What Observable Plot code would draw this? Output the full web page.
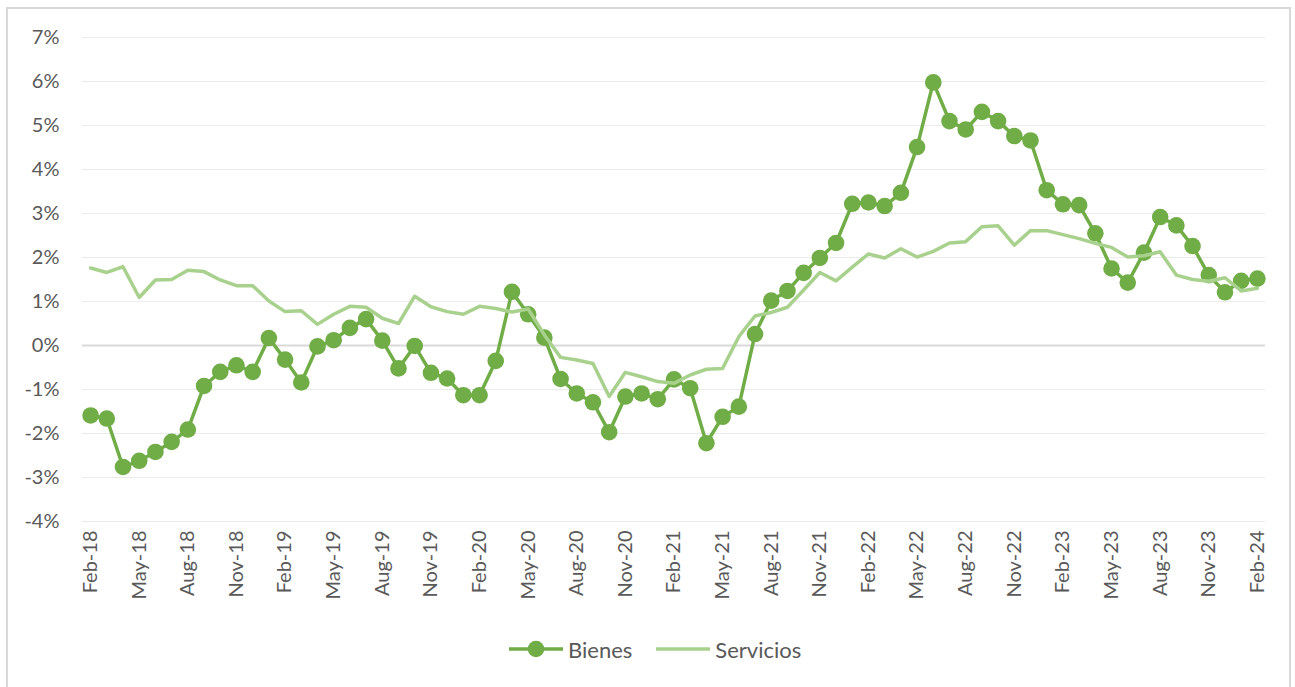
<!DOCTYPE html>
<html>
<head>
<meta charset="utf-8">
<script src="https://cdn.jsdelivr.net/npm/d3@7"></script>
<script src="https://cdn.jsdelivr.net/npm/@observablehq/plot@0.6"></script>
<style>
  html, body { margin: 0; padding: 0; background: #ffffff; }
  body { width: 1295px; height: 687px; position: relative; overflow: hidden; font-family: Lato, "Liberation Sans", sans-serif; }
  #frame { position: absolute; left: 6px; top: 7px; width: 1285px; height: 700px; border: 2px solid #d9d9d9; box-sizing: border-box; }
  #chart { position: absolute; left: 0; top: 0; }
  #legend { position: absolute; left: 509px; top: 636px; height: 26px; display: flex; align-items: center; font-size: 22px; color: #595959; }
  #legend .item { display: flex; align-items: center; }
  #legend svg { display: block; }
</style>
</head>
<body>
<div id="frame"></div>
<div id="chart"></div>
<div id="legend"></div>
<script>
const months = [
  "Feb-18","Mar-18","Apr-18","May-18","Jun-18","Jul-18","Aug-18","Sep-18","Oct-18","Nov-18","Dec-18",
  "Jan-19","Feb-19","Mar-19","Apr-19","May-19","Jun-19","Jul-19","Aug-19","Sep-19","Oct-19","Nov-19","Dec-19",
  "Jan-20","Feb-20","Mar-20","Apr-20","May-20","Jun-20","Jul-20","Aug-20","Sep-20","Oct-20","Nov-20","Dec-20",
  "Jan-21","Feb-21","Mar-21","Apr-21","May-21","Jun-21","Jul-21","Aug-21","Sep-21","Oct-21","Nov-21","Dec-21",
  "Jan-22","Feb-22","Mar-22","Apr-22","May-22","Jun-22","Jul-22","Aug-22","Sep-22","Oct-22","Nov-22","Dec-22",
  "Jan-23","Feb-23","Mar-23","Apr-23","May-23","Jun-23","Jul-23","Aug-23","Sep-23","Oct-23","Nov-23","Dec-23",
  "Jan-24","Feb-24"
];

const bienes = [
  -1.59, -1.66, -2.76, -2.62, -2.42, -2.19, -1.91, -0.92, -0.60, -0.45, -0.60,
   0.17, -0.32, -0.84, -0.02,  0.12,  0.40,  0.60,  0.11, -0.52, -0.01, -0.62, -0.75,
  -1.13, -1.13, -0.35,  1.22,  0.71,  0.18, -0.76, -1.09, -1.29, -1.97, -1.16, -1.09,
  -1.22, -0.77, -0.97, -2.22, -1.62, -1.39,  0.26,  1.02,  1.24,  1.65,  1.99,  2.33,
   3.22,  3.25,  3.17,  3.47,  4.51,  5.98,  5.10,  4.91,  5.31,  5.10,  4.76,  4.66,
   3.53,  3.21,  3.19,  2.55,  1.75,  1.43,  2.11,  2.92,  2.73,  2.26,  1.60,  1.21,
   1.47,  1.52
];

const servicios = [
   1.76,  1.66,  1.79,  1.09,  1.49,  1.50,  1.71,  1.68,  1.49,  1.36,  1.36,
   1.01,  0.77,  0.79,  0.48,  0.71,  0.89,  0.87,  0.62,  0.50,  1.12,  0.88,  0.77,
   0.71,  0.89,  0.84,  0.76,  0.83,  0.24, -0.27, -0.33, -0.41, -1.16, -0.61, -0.71,
  -0.82, -0.86, -0.67, -0.54, -0.52,  0.20,  0.67,  0.75,  0.87,  1.26,  1.66,  1.47,
   1.78,  2.08,  1.99,  2.20,  2.01,  2.14,  2.33,  2.36,  2.70,  2.72,  2.28,  2.61,
   2.61,  2.52,  2.43,  2.32,  2.23,  2.01,  2.04,  2.13,  1.60,  1.50,  1.46,  1.54,
   1.24,  1.30
];

const xTickLabels = [
  "Feb-18","May-18","Aug-18","Nov-18","Feb-19","May-19","Aug-19","Nov-19","Feb-20","May-20",
  "Aug-20","Nov-20","Feb-21","May-21","Aug-21","Nov-21","Feb-22","May-22","Aug-22","Nov-22",
  "Feb-23","May-23","Aug-23","Nov-23","Feb-24"
];
const yTicks = [-4, -3, -2, -1, 0, 1, 2, 3, 4, 5, 6, 7];

const seriesNames = ["Bienes", "Servicios"];
const seriesColors = ["#70AD47", "#A9D18E"];

const data = months.map((m, i) => ({ month: m, bienes: bienes[i], servicios: servicios[i] }));

const chart = Plot.plot({
  width: 1295,
  height: 630,
  marginTop: 37,
  marginBottom: 109,
  marginLeft: 82,
  marginRight: 30,
  style: { fontFamily: "Lato, 'Liberation Sans', sans-serif", fontSize: "20px", color: "#595959", background: "transparent" },
  x: { type: "point", domain: months, padding: 0.5, align: 0.5, round: false, label: null },
  y: { domain: [-4, 7], label: null },
  marks: [
    Plot.ruleY(yTicks.filter(d => d !== 0), { stroke: "#ebebeb", strokeWidth: 1 }),
    Plot.ruleY([0], { stroke: "#d9d9d9", strokeWidth: 2 }),
    Plot.axisY(yTicks, { tickSize: 0, tickPadding: 23, tickFormat: d => `${d}%`, fill: "#595959", fontSize: 20, label: null }),
    Plot.axisX(xTickLabels, { tickSize: 0, tickPadding: 9, tickRotate: -90, fill: "#595959", fontSize: 20, label: null }),
    Plot.line(data, { x: "month", y: "bienes", stroke: seriesColors[0], strokeWidth: 3.5 }),
    Plot.dot(data, { x: "month", y: "bienes", r: 8.3, fill: seriesColors[0], stroke: "none" }),
    Plot.line(data, { x: "month", y: "servicios", stroke: seriesColors[1], strokeWidth: 3.5 })
  ]
});
document.getElementById("chart").appendChild(chart);

// Legend
const legend = document.getElementById("legend");
legend.innerHTML = `
  <div class="item">
    <svg width="54" height="20"><line x1="0" y1="10" x2="54" y2="10" stroke="${seriesColors[0]}" stroke-width="3.5"/><circle cx="27" cy="10" r="8.3" fill="${seriesColors[0]}"/></svg>
    <span style="margin-left:5px">${seriesNames[0]}</span>
  </div>
  <div class="item" style="margin-left:24px">
    <svg width="54" height="20"><line x1="0" y1="10" x2="54" y2="10" stroke="${seriesColors[1]}" stroke-width="3.5"/></svg>
    <span style="margin-left:5px">${seriesNames[1]}</span>
  </div>`;
</script>
</body>
</html>
